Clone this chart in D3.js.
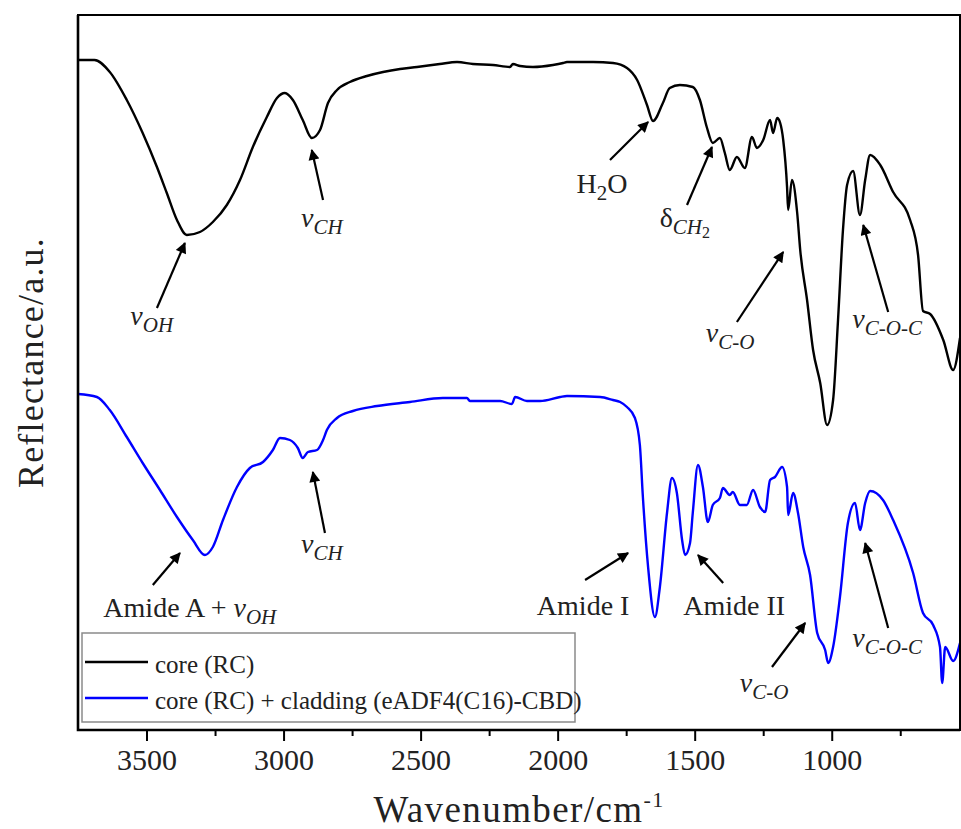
<!DOCTYPE html>
<html>
<head>
<meta charset="utf-8">
<script src="https://cdn.jsdelivr.net/npm/d3@7"></script>
<style>
  body { margin: 0; background: #fff; }
  svg { display: block; font-family: "Liberation Serif", "Times New Roman", serif; }
</style>
</head>
<body>
<svg id="chart" width="961" height="829"></svg>
<script>
// ---- Spectra (wavenumber in cm-1, reflectance in a.u.) ----
const coreWn = [3750, 3690, 3634, 3572, 3514, 3462, 3426, 3389, 3353, 3305, 3258, 3207, 3159, 3112, 3061,
    3024, 2995, 2966, 2930, 2897, 2867, 2838, 2805, 2758, 2696, 2637, 2575, 2513, 2430, 2367, 2309, 2236,
    2174, 2163, 2137, 2090, 2017, 1980, 1966, 1871, 1798, 1747, 1710, 1674, 1652, 1616, 1591, 1554, 1507,
    1481, 1456, 1434, 1408, 1390, 1372, 1346, 1317, 1291, 1273, 1250, 1225, 1214, 1199, 1188, 1177, 1163,
    1159, 1145, 1126, 1115, 1090, 1068, 1042, 1017, 995, 977, 959, 944, 922, 897, 878, 860, 823, 776, 714,
    685, 667, 641, 593, 557, 532];
const coreR = [134, 134, 131.6, 126, 119.4, 112.6, 107.4, 102, 99, 99.6, 101.6, 105, 110, 116.6, 122.6,
    126.4, 127.4, 126, 122, 118.4, 120, 125.4, 128, 129.6, 130.8, 131.6, 132.2, 132.6, 133.2, 133.6, 133.2, 133,
    132.6, 133.2, 132.8, 132.6, 133, 133.4, 133.6, 133.6, 133.4, 132.4, 130, 125, 121.8, 125.4, 128.4, 129, 128.6,
    126, 120.6, 117.4, 118.4, 115.4, 112, 114.6, 112.4, 118.6, 116.4, 118, 122, 119.4, 122.4, 121.4, 118, 108.6,
    104, 110, 103.4, 96, 86, 76, 69.4, 61, 66, 82, 100, 109, 111.8, 103, 110, 115, 113, 107.6, 102,
    95, 83.8, 83.2, 78, 72, 78.4];

const cladWn = [3750, 3681, 3634, 3572, 3514, 3451, 3389, 3331, 3287, 3258, 3221, 3170, 3123, 3075, 3039,
    3013, 2977, 2948, 2930, 2911, 2878, 2856, 2842, 2805, 2747, 2659, 2539, 2419, 2331, 2320, 2210, 2167,
    2155, 2112, 2064, 1991, 1966, 1845, 1798, 1772, 1747, 1718, 1700, 1689, 1670, 1645, 1627, 1601, 1583,
    1565, 1546, 1535, 1517, 1507, 1488, 1470, 1452, 1434, 1408, 1397, 1372, 1361, 1335, 1310, 1287, 1262,
    1243, 1225, 1207, 1181, 1163, 1159, 1141, 1123, 1104, 1079, 1053, 1024, 1013, 995, 970, 941, 915, 897,
    878, 860, 813, 776, 703, 667, 630, 605, 597, 586, 557, 532];
const cladR = [67.2, 66.6, 64, 58.6, 53.4, 48, 42.6, 38, 35, 36.6, 42, 48.6, 52.4, 53.6, 56,
    58.4, 58, 56.4, 54.4, 55.6, 56, 58, 60, 62.4, 63.8, 64.8, 65.6, 66.4, 66.4, 65.8, 65.8, 65.2,
    66.6, 65.8, 65.8, 66.6, 66.8, 66.6, 66, 65.6, 64.6, 62.4, 57, 46.6, 32.6, 22.6, 28.6, 43.4, 50.4,
    47.4, 38, 35, 37.4, 43.4, 53, 48.6, 41.6, 45, 46.4, 48.4, 47, 47.6, 45, 45, 48, 44.6,
    43.6, 50, 50.6, 52.6, 48.6, 43, 47.4, 43.4, 36.6, 31, 19.4, 16, 13.4, 16.6, 26.6, 41.4, 45.4, 40,
    45.4, 47.8, 46, 42, 31.4, 23.4, 21, 16.6, 9.4, 16.6, 13.8, 17.4];

const majorTicks = [3500, 3000, 2500, 2000, 1500, 1000];
const minorTicks = [3250, 2750, 2250, 1750, 1250, 750];

const seriesNames = ["core (RC)", "core (RC) + cladding (eADF4(C16)-CBD)"];
const seriesColors = ["#000000", "#0000ff"];

// Band assignments: arrow tail/head and label anchor, all in data units
const annotations = [
    { tail: [3462, 84.4], head: [3360, 97.4], at: [3481, 81], parts: [{ t: "v", it: 1 }, { t: "OH", it: 1, sub: 1 }] },
    { tail: [2856, 106], head: [2897, 116], at: [2860, 100.6], parts: [{ t: "v", it: 1 }, { t: "CH", it: 1, sub: 1 }] },
    { tail: [1809, 114], head: [1670, 121.6], at: [1838, 107.4], parts: [{ t: "H" }, { t: "2", sub: 1 }, { t: "O" }] },
    { tail: [1528, 105], head: [1437, 116.6], at: [1536, 100.6], parts: [{ t: "δ" }, { t: "CH", it: 1, sub: 1 }, { t: "2", sub: 2 }] },
    { tail: [1346, 81.6], head: [1177, 95.6], at: [1371, 77.6], parts: [{ t: "v", it: 1 }, { t: "C-O", it: 1, sub: 1 }] },
    { tail: [794, 83.6], head: [885, 101], at: [798, 80.4], parts: [{ t: "v", it: 1 }, { t: "C-O-C", it: 1, sub: 1 }] },
    { tail: [3477, 29], head: [3378, 35.4], at: [3342, 22.6], parts: [{ t: "Amide A + " }, { t: "v", it: 1 }, { t: "OH", it: 1, sub: 1 }] },
    { tail: [2849, 39.4], head: [2893, 51.6], at: [2860, 35.4], parts: [{ t: "v", it: 1 }, { t: "CH", it: 1, sub: 1 }] },
    { tail: [1900, 30], head: [1743, 35.4], at: [1907, 23], parts: [{ t: "Amide I" }] },
    { tail: [1396, 29.4], head: [1488, 35], at: [1356, 23], parts: [{ t: "Amide II" }] },
    { tail: [1218, 12.6], head: [1097, 21.4], at: [1247, 7.6], parts: [{ t: "v", it: 1 }, { t: "C-O", it: 1, sub: 1 }] },
    { tail: [794, 20.4], head: [878, 37.4], at: [798, 16.6], parts: [{ t: "v", it: 1 }, { t: "C-O-C", it: 1, sub: 1 }] }
];

(function () {
    const svg = d3.select("#chart");
    const WIDTH = +svg.attr("width");
    const HEIGHT = +svg.attr("height");
    const M = { top: 15, right: 1, bottom: 99, left: 78 };

    // wavenumber runs high -> low, like an FTIR plot
    const x = d3.scaleLinear().domain([3750, 532]).range([M.left, WIDTH - M.right]);
    const y = d3.scaleLinear().domain([0, 143]).range([HEIGHT - M.bottom, M.top]);

    const defs = svg.append("defs");
    defs.append("clipPath").attr("id", "plot-clip")
        .append("rect")
        .attr("x", M.left).attr("y", M.top)
        .attr("width", x.range()[1] - M.left).attr("height", y.range()[0] - M.top);

    defs.append("marker")
        .attr("id", "arrow")
        .attr("viewBox", "0 0 10 10")
        .attr("refX", 9).attr("refY", 5)
        .attr("markerUnits", "userSpaceOnUse")
        .attr("markerWidth", 13).attr("markerHeight", 11)
        .attr("orient", "auto")
        .append("path")
        .attr("d", "M0,0 L10,5 L0,10 z")
        .attr("fill", "#000");

    // ----- SPECTRA -----
    const line = d3.line()
        .x(d => x(d[0]))
        .y(d => y(d[1]))
        .curve(d3.curveMonotoneX);

    const series = [
        d3.zip(coreWn, coreR),
        d3.zip(cladWn, cladR)
    ];

    svg.append("g")
        .attr("clip-path", "url(#plot-clip)")
        .selectAll("path")
        .data(series)
        .join("path")
        .attr("fill", "none")
        .attr("stroke", (d, i) => seriesColors[i])
        .attr("stroke-width", 2.4)
        .attr("stroke-linejoin", "round")
        .attr("d", line);

    // ----- AXES -----
    const yBottom = y.range()[0];

    svg.append("g")
        .attr("transform", `translate(0,${yBottom})`)
        .call(d3.axisBottom(x).tickValues(minorTicks).tickSize(6).tickFormat(""))
        .call(g => g.select(".domain").remove())
        .call(g => g.selectAll("line").attr("stroke-width", 2));

    svg.append("g")
        .attr("transform", `translate(0,${yBottom})`)
        .call(d3.axisBottom(x).tickValues(majorTicks).tickSize(11).tickPadding(8).tickFormat(d3.format("d")))
        .call(g => g.select(".domain").remove())
        .call(g => g.selectAll("line").attr("stroke-width", 2))
        .call(g => g.selectAll("text")
            .attr("font-family", "Liberation Serif, serif")
            .attr("font-size", 30)
            .attr("fill", "#222"));

    // Frame
    svg.append("rect")
        .attr("x", M.left).attr("y", M.top)
        .attr("width", x.range()[1] - M.left).attr("height", yBottom - M.top)
        .attr("fill", "none").attr("stroke", "#000").attr("stroke-width", 2);
    svg.append("path")
        .attr("d", `M${M.left},${M.top}V${yBottom}H${x.range()[1]}`)
        .attr("fill", "none").attr("stroke", "#000").attr("stroke-width", 2.6);

    // Axis titles
    const xt = svg.append("text")
        .attr("x", (M.left + x.range()[1]) / 2)
        .attr("y", 822)
        .attr("text-anchor", "middle")
        .attr("font-size", 37)
        .attr("letter-spacing", 1.4)
        .attr("fill", "#222")
        .text("Wavenumber/cm");
    xt.append("tspan").attr("dy", -15).attr("font-size", 22).text("-1");

    svg.append("text")
        .attr("transform", `translate(43,${(M.top + yBottom) / 2 - 10}) rotate(-90)`)
        .attr("text-anchor", "middle")
        .attr("font-size", 36)
        .attr("letter-spacing", 1.2)
        .attr("fill", "#222")
        .text("Reflectance/a.u.");

    // ----- ANNOTATIONS -----
    const SIZE = [28, 21, 16];
    const SHIFT = [0, 7, 11];

    const ann = svg.append("g").attr("class", "annotations");

    ann.selectAll("line")
        .data(annotations)
        .join("line")
        .attr("x1", d => x(d.tail[0])).attr("y1", d => y(d.tail[1]))
        .attr("x2", d => x(d.head[0])).attr("y2", d => y(d.head[1]))
        .attr("stroke", "#000")
        .attr("stroke-width", 2.2)
        .attr("marker-end", "url(#arrow)");

    ann.selectAll("text")
        .data(annotations)
        .join("text")
        .attr("x", d => x(d.at[0]))
        .attr("y", d => y(d.at[1]))
        .attr("text-anchor", "middle")
        .attr("fill", "#222")
        .each(function (d) {
            const t = d3.select(this);
            let level = 0;
            d.parts.forEach(p => {
                const lv = p.sub || 0;
                t.append("tspan")
                    .attr("dy", SHIFT[lv] - SHIFT[level])
                    .attr("font-size", SIZE[lv])
                    .attr("font-style", p.it ? "italic" : "normal")
                    .text(p.t);
                level = lv;
            });
        });

    // ----- LEGEND -----
    const lg = svg.append("g").attr("class", "legend");
    lg.append("rect")
        .attr("x", 82).attr("y", 633)
        .attr("width", 493).attr("height", 89)
        .attr("fill", "#fff")
        .attr("stroke", "#8a8a8a")
        .attr("stroke-width", 1.5);

    const item = lg.selectAll("g.item")
        .data(seriesNames)
        .join("g")
        .attr("class", "item")
        .attr("transform", (d, i) => `translate(0,${662 + i * 36})`);

    item.append("line")
        .attr("x1", 85).attr("x2", 148)
        .attr("stroke", (d, i) => seriesColors[i])
        .attr("stroke-width", 2.4);

    item.append("text")
        .attr("x", 155).attr("y", 11)
        .attr("font-size", 25)
        .attr("fill", "#222")
        .text(d => d);
})();
</script>
</body>
</html>
